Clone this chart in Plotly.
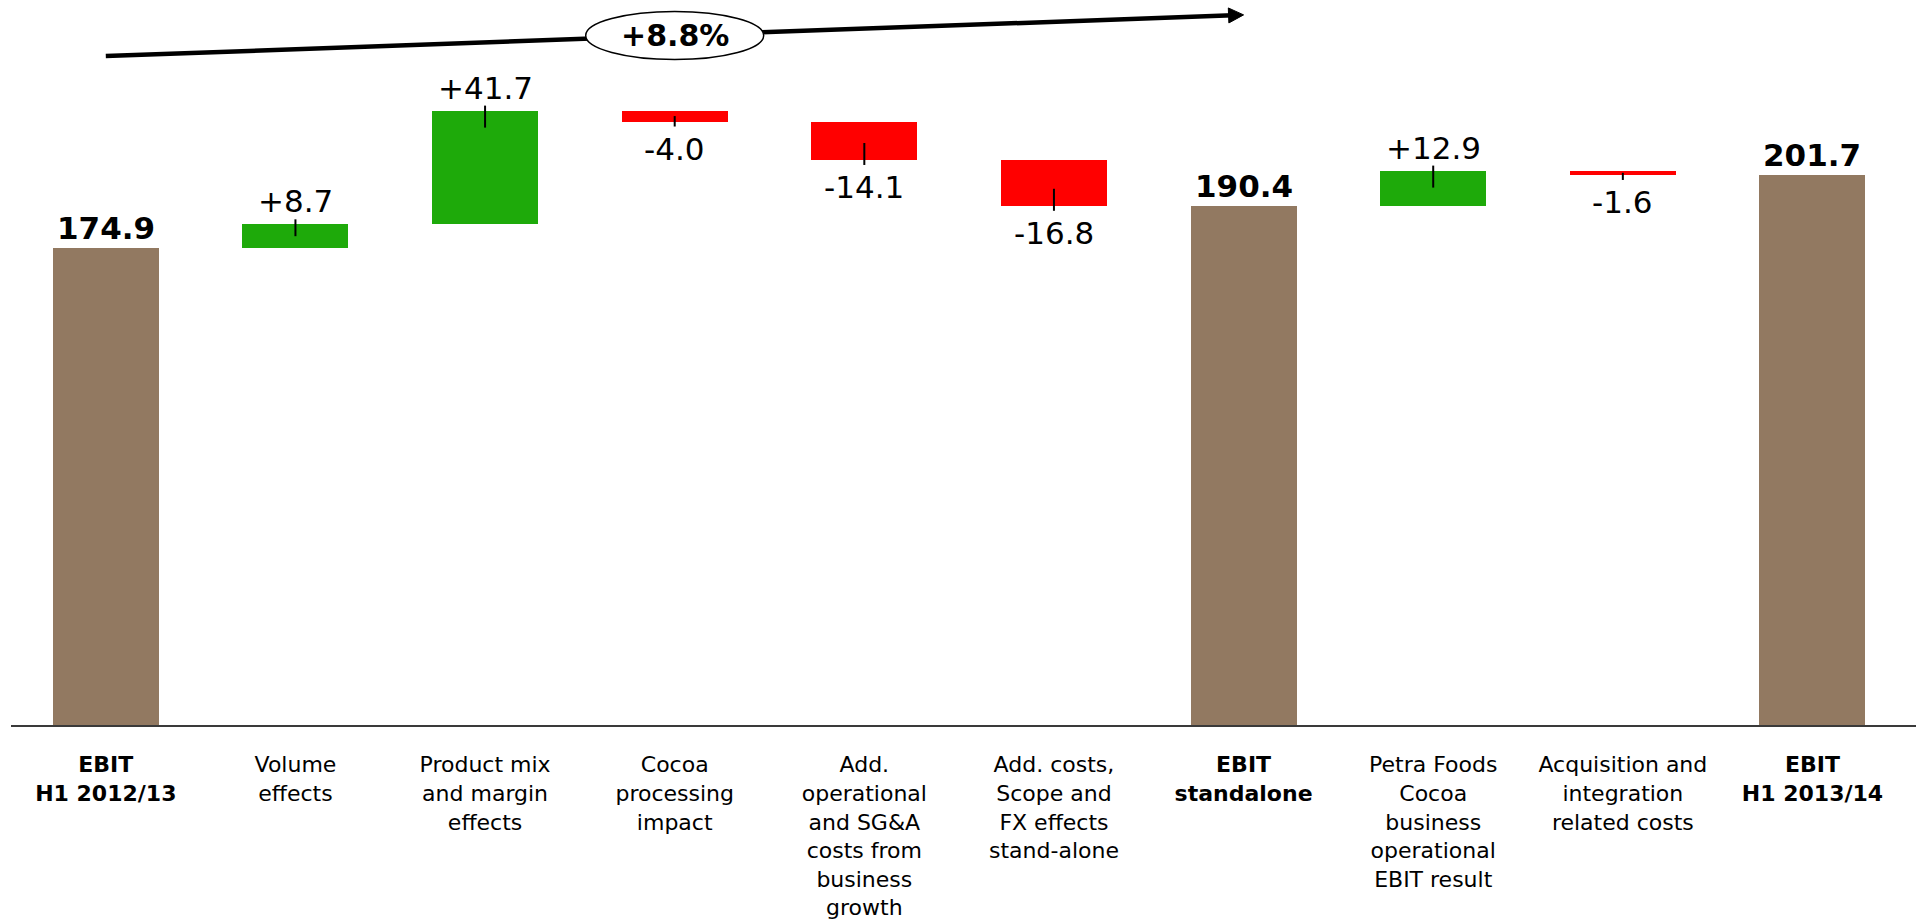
import math
import plotly.graph_objects as go

# ---- data -------------------------------------------------------------
categories = [
    "<b>EBIT</b><br><b>H1 2012/13</b>",
    "Volume<br>effects",
    "Product mix<br>and margin<br>effects",
    "Cocoa<br>processing<br>impact",
    "Add.<br>operational<br>and SG&amp;A<br>costs from<br>business<br>growth",
    "Add. costs,<br>Scope and<br>FX effects<br>stand-alone",
    "<b>EBIT</b><br><b>standalone</b>",
    "Petra Foods<br>Cocoa<br>business<br>operational<br>EBIT result",
    "Acquisition and<br>integration<br>related costs",
    "<b>EBIT</b><br><b>H1 2013/14</b>",
]
values = [174.9, 8.7, 41.7, -4.0, -14.1, -16.8, 190.4, 12.9, -1.6, 201.7]
measures = ["total", "delta", "delta", "delta", "delta", "delta",
            "total", "delta", "delta", "total"]
growth_label = "+8.8%"

# ---- styling ----------------------------------------------------------
FONT = "DejaVu Sans"
BROWN = "#927961"
GREEN = "#1EAA0A"
RED = "#FF0000"

W, H = 1916, 920
M_L, M_R, M_T, M_B = 11, 0, 0, 195
Y_MAX = 265.86
PX_PER_UNIT = (H - M_T - M_B) / Y_MAX
X_RANGE = [-0.5, 9.546]
PX_PER_CAT = (W - M_L - M_R) / (X_RANGE[1] - X_RANGE[0])

# ---- waterfall geometry ----------------------------------------------
x_idx = list(range(len(values)))
bases, colors, ends = [], [], []
running = 0.0
for v, m in zip(values, measures):
    if m == "total":
        bases.append(0.0)
        colors.append(BROWN)
        running = v
        ends.append(v)
    else:
        bases.append(running)
        colors.append(GREEN if v > 0 else RED)
        running += v
        ends.append(running)

fig = go.Figure()
fig.add_trace(go.Bar(
    x=x_idx, y=values, base=bases,
    marker=dict(color=colors, line=dict(width=0)),
    width=0.559, hoverinfo="skip",
))

annotations = []
shapes = []
for i, (v, m, b, e) in enumerate(zip(values, measures, bases, ends)):
    if m == "total":
        annotations.append(dict(
            x=i, y=e, xref="x", yref="y", yanchor="bottom", yshift=0,
            text=f"<b>{v:.1f}</b>", showarrow=False,
            font=dict(family=FONT, size=31, color="black"),
        ))
        continue
    sign = 1 if v > 0 else -1
    if v > 0:
        annotations.append(dict(
            x=i, y=e, xref="x", yref="y", yanchor="bottom", yshift=3,
            text=f"{v:+.1f}", showarrow=False,
            font=dict(family=FONT, size=31, color="black"),
        ))
    else:
        annotations.append(dict(
            x=i, y=e, xref="x", yref="y", yanchor="top", yshift=-7,
            text=f"{v:+.1f}", showarrow=False,
            font=dict(family=FONT, size=31, color="black"),
        ))
    # short leader tick at the bar end
    inside = min(17.0, abs(v) * PX_PER_UNIT / 2)
    shapes.append(dict(
        type="line", xref="x", yref="y", x0=i, x1=i,
        ysizemode="pixel", yanchor=e,
        y0=5 * sign, y1=-inside * sign,
        line=dict(color="black", width=2), layer="above",
    ))

# ---- growth arrow with ellipse label ----------------------------------
ARROW_X0, ARROW_Y0 = 0, 245.3
ARROW_X1, ARROW_Y1 = 6, 260.4
head_len, head_half = 15.0, 7.5
dx_px = (ARROW_X1 - ARROW_X0) * PX_PER_CAT
dy_px = (ARROW_Y1 - ARROW_Y0) * PX_PER_UNIT
ang = math.atan2(dy_px, dx_px)
shaft_end_x = ARROW_X1 - (head_len - 4) * math.cos(ang) / PX_PER_CAT
shaft_end_y = ARROW_Y1 - (head_len - 4) * math.sin(ang) / PX_PER_UNIT
shapes.append(dict(
    type="line", xref="x", yref="y",
    x0=ARROW_X0, y0=ARROW_Y0, x1=shaft_end_x, y1=shaft_end_y,
    line=dict(color="black", width=4.5), layer="above",
))
bx = -head_len * math.cos(ang)
by = -head_len * math.sin(ang)
nx, ny = -math.sin(ang) * head_half, math.cos(ang) * head_half
shapes.append(dict(
    type="path", xref="x", yref="y",
    xsizemode="pixel", ysizemode="pixel", xanchor=ARROW_X1, yanchor=ARROW_Y1,
    path=f"M 0 0 L {bx + nx:.2f} {by + ny:.2f} L {bx - nx:.2f} {by - ny:.2f} Z",
    fillcolor="black", line=dict(color="black", width=1), layer="above",
))
mid_x = 3
mid_y = ARROW_Y0 + (ARROW_Y1 - ARROW_Y0) * (mid_x - ARROW_X0) / (ARROW_X1 - ARROW_X0)
shapes.append(dict(
    type="circle", xref="x", yref="y",
    xsizemode="pixel", ysizemode="pixel", xanchor=mid_x, yanchor=mid_y,
    x0=-89, x1=89, y0=-24, y1=24,
    fillcolor="white", line=dict(color="black", width=1.5), layer="above",
))
annotations.append(dict(
    x=mid_x, y=mid_y, xref="x", yref="y", text=f"<b>{growth_label}</b>",
    showarrow=False, font=dict(family=FONT, size=30, color="black"),
))

fig.update_layout(
    width=W, height=H,
    margin=dict(l=M_L, r=M_R, t=M_T, b=M_B, pad=0, autoexpand=False),
    paper_bgcolor="white", plot_bgcolor="white",
    showlegend=False, bargap=0,
    font=dict(family=FONT, color="black"),
    xaxis=dict(
        range=X_RANGE, tickvals=x_idx, ticktext=categories,
        tickfont=dict(family=FONT, size=22, color="black"),
        ticks="", ticklabelstandoff=19, automargin=False,
        showline=True, linecolor="#3a3a3a", linewidth=2,
        showgrid=False, zeroline=False, fixedrange=True,
    ),
    yaxis=dict(range=[0, Y_MAX], visible=False, fixedrange=True,
               automargin=False),
    annotations=annotations,
    shapes=shapes,
)

fig.write_html("out.html")
